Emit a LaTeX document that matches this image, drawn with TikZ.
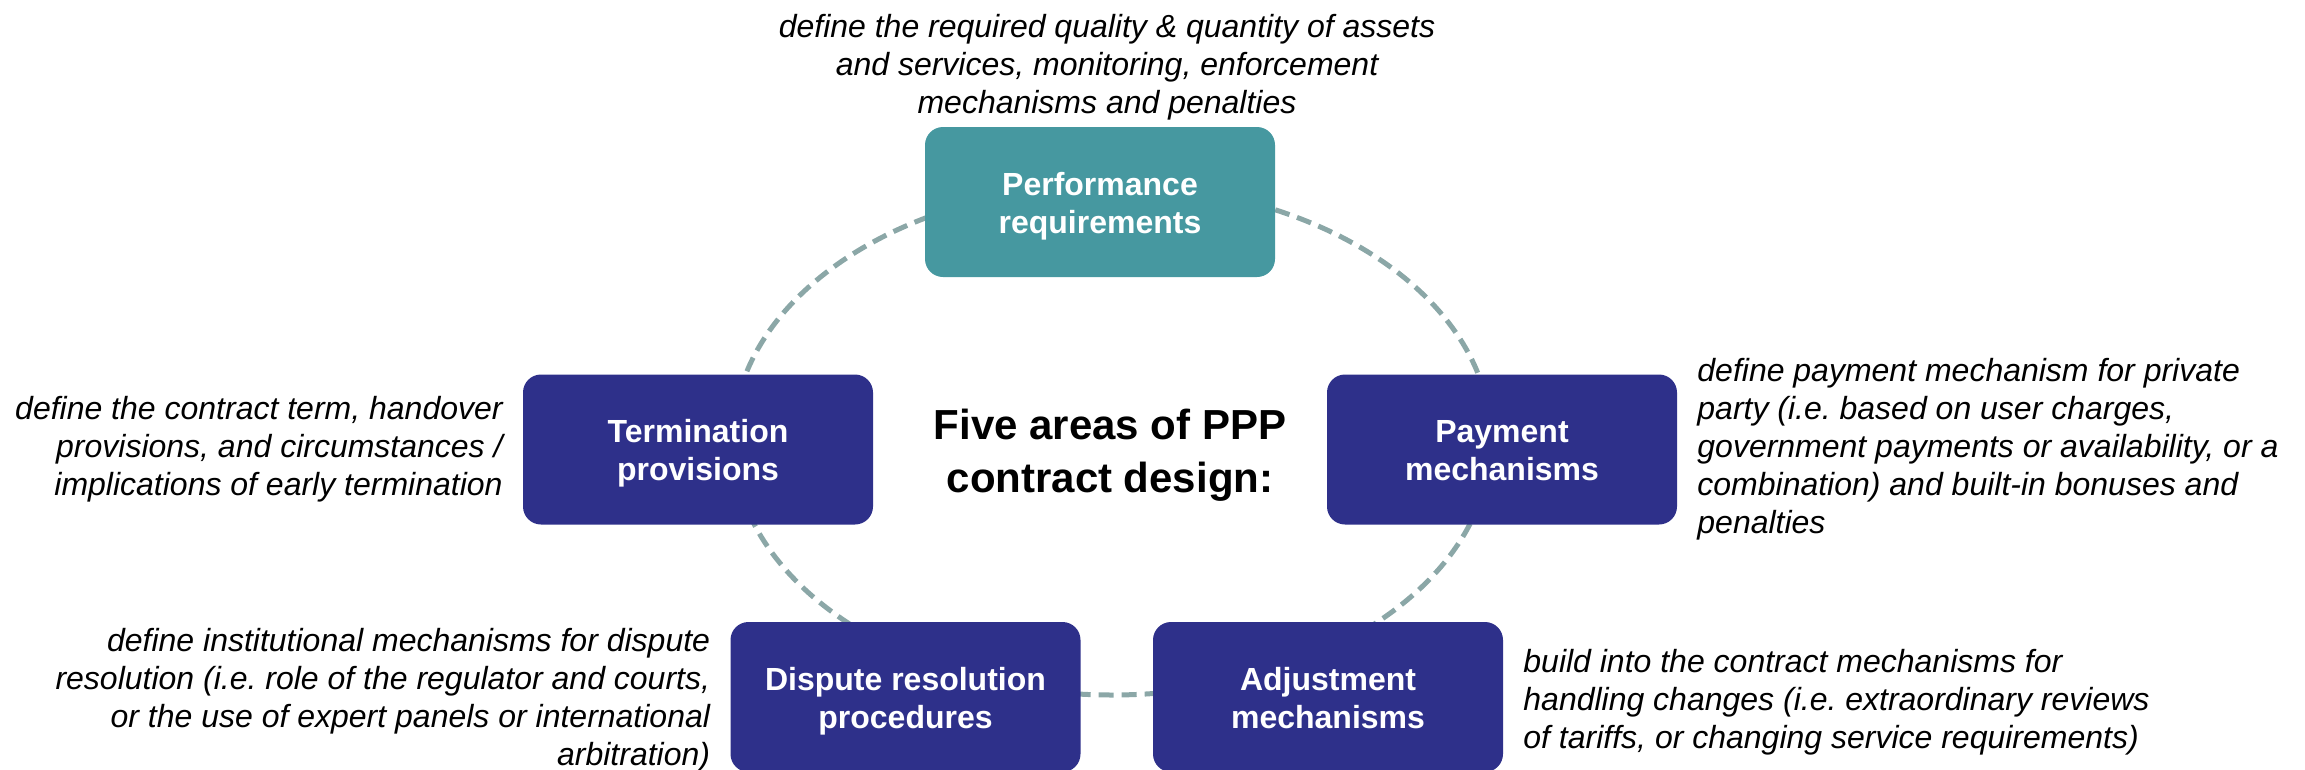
\documentclass[tikz,border=0pt]{standalone}
\usepackage{fontspec}
\setmainfont{Liberation Sans}
\usepackage{xcolor}
\usetikzlibrary{positioning}
\frenchspacing

\definecolor{tealbox}{RGB}{70,152,160}
\definecolor{navybox}{RGB}{46,48,138}
\definecolor{ringgray}{RGB}{139,167,167}

\begin{document}
\begin{tikzpicture}[
  x=1pt, y=-1pt,
  box/.style={rounded corners=18pt, minimum width=350pt, minimum height=150pt,
              inner sep=4pt, text=white, align=center,
              text height=62pt, text depth=0pt,
              font=\fontsize{32}{38}\selectfont\bfseries},
  lead/.style={box, fill=tealbox},
  area/.style={box, fill=navybox},
  note/.style={inner sep=0pt, font=\fontsize{32}{38}\selectfont\itshape},
  ring/.style={draw=ringgray, line width=5pt, dash pattern=on 15pt off 8pt},
]
\useasboundingbox (0,0) rectangle (2305,769);
% --- dashed ring (behind the boxes) ---
\coordinate (hub) at (1112,440);
\draw[ring] (hub) ellipse [x radius=379pt, y radius=255pt];
% --- the five areas ---
\node[lead] (perf) at (1100,202)   {Performance\\requirements};
\node[area] (term) at (698,449.5)  {Termination\\provisions};
\node[area] (pay)  at (1502,449.5) {Payment\\mechanisms};
\node[area] (disp) at (905.5,697)  {Dispute resolution\\procedures};
\node[area] (adj)  at (1328,697)   {Adjustment\\mechanisms};
% --- centre title ---
\node[font=\fontsize{42}{53}\selectfont\bfseries, align=center] (title) at (1110,455)
  {Five areas of PPP\\contract design:};
% --- notes next to each box ---
\node[note, align=center, above=6pt of perf, xshift=7pt] (perfnote)
  {define the required quality \& quantity of assets\\
   and services, monitoring, enforcement\\
   mechanisms and penalties};
\node[note, align=right, left=20pt of term] (termnote)
  {define the contract term, handover\\
   provisions, and circumstances /\\
   implications of early termination};
\node[note, align=left, right=20pt of pay] (paynote)
  {define payment mechanism for private\\
   party (i.e. based on user charges,\\
   government payments or availability, or a\\
   combination) and built-in bonuses and\\
   penalties};
\node[note, align=right, left=20pt of disp, yshift=-3pt] (dispnote)
  {define institutional mechanisms for dispute\\
   resolution (i.e. role of the regulator and courts,\\
   or the use of expert panels or international\\
   arbitration)};
\node[note, align=left, right=20pt of adj, yshift=-5pt] (adjnote)
  {build into the contract mechanisms for\\
   handling changes (i.e. extraordinary reviews\\
   of tariffs, or changing service requirements)};
\end{tikzpicture}
\end{document}
